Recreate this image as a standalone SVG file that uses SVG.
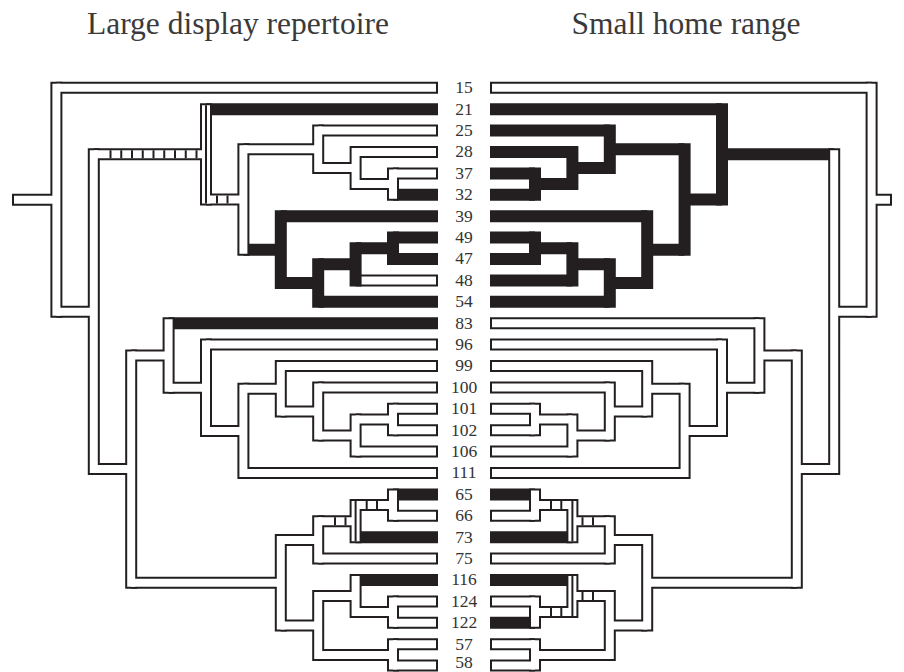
<svg xmlns="http://www.w3.org/2000/svg" width="904" height="672" viewBox="0 0 904 672">
<style>
.o{fill:none;stroke:#231f20;stroke-width:12;stroke-linecap:butt}
.ob{fill:none;stroke:#231f20;stroke-width:12;stroke-linecap:square}
.w{fill:none;stroke:#fff;stroke-width:8;stroke-linecap:butt}
.wb{fill:none;stroke:#fff;stroke-width:8;stroke-linecap:square}
.h{fill:none;stroke:#231f20;stroke-width:2}
.lab{font-family:"Liberation Serif","Times New Roman",serif;font-size:17.5px;fill:#333;text-anchor:middle}
.ttl{font-family:"Liberation Serif","Times New Roman",serif;font-size:31.5px;fill:#3a3a3a;text-anchor:middle}
</style>
<rect width="904" height="672" fill="#fff"/>
<g id="title-left"><text class="ttl" x="238" y="33.5">Large display repertoire</text></g>
<g id="title-right"><text class="ttl" x="686" y="33.5">Small home range</text></g>
<g id="connectors">
<g id="tree-left">
<path class="o" d="M12 199.8H56.4M56.4 87.8H438M56.4 311.7H93.8M93.8 154.35H206M93.8 469.1H131.2M206 109.2H438M206 199.5H243.4M243.4 149.3H318.2M243.4 249.65H280.8M318.2 130.6H438M318.2 168.05H355.6M355.6 152H438M355.6 184.1H393M393 173.4H438M393 194.8H438M280.8 216.2H438M280.8 283.1H318.2M318.2 264.35H355.6M318.2 301.8H438M355.6 248.3H393M355.6 280.4H438M393 237.6H438M393 259H438M131.2 355.5H168.6M131.2 582.7H280.8M168.6 323.2H438M168.6 387.7H206M206 344.6H438M206 430.9H243.4M243.4 388.7H280.8M243.4 473H438M280.8 366H438M280.8 411.5H318.2M318.2 387.4H438M318.2 435.55H355.6M355.6 419.5H393M355.6 451.6H438M393 408.8H438M393 430.2H438M280.8 539.9H318.2M280.8 625.5H318.2M318.2 521.15H355.6M318.2 558.6H438M355.6 505.1H393M355.6 537.2H438M393 494.4H438M393 515.8H438M318.2 596.05H355.6M318.2 654.9H393M355.6 580H438M355.6 612.1H393M393 601.4H438M393 622.8H438M393 644.2H438M393 665.6H438"/>
<path class="ob" d="M56.4 87.8V311.7M93.8 154.35V469.1M206 109.2V199.5M243.4 149.3V249.65M318.2 130.6V168.05M355.6 152V184.1M393 173.4V194.8M280.8 216.2V283.1M318.2 264.35V301.8M355.6 248.3V280.4M393 237.6V259M131.2 355.5V582.7M168.6 323.2V387.7M206 344.6V430.9M243.4 388.7V473M280.8 366V411.5M318.2 387.4V435.55M355.6 419.5V451.6M393 408.8V430.2M280.8 539.9V625.5M318.2 521.15V558.6M355.6 505.1V537.2M393 494.4V515.8M318.2 596.05V654.9M355.6 580V612.1M393 601.4V622.8M393 644.2V665.6"/>
<path class="wb" d="M56.4 87.8V311.7M93.8 154.35V469.1M206 109.2V199.5M243.4 149.3V249.65M318.2 130.6V168.05M355.6 152V184.1M393 173.4V194.8M131.2 355.5V582.7M168.6 323.2V387.7M206 344.6V430.9M243.4 388.7V473M280.8 366V411.5M318.2 387.4V435.55M355.6 419.5V451.6M393 408.8V430.2M280.8 539.9V625.5M318.2 521.15V558.6M355.6 505.1V537.2M393 494.4V515.8M318.2 596.05V654.9M355.6 580V612.1M393 601.4V622.8M393 644.2V665.6"/>
<path class="w" d="M14 199.8H56.4M56.4 87.8H436M56.4 311.7H93.8M93.8 154.35H206M93.8 469.1H131.2M206 199.5H243.4M243.4 149.3H318.2M318.2 130.6H436M318.2 168.05H355.6M355.6 152H436M355.6 184.1H393M393 173.4H436M361.6 280.4H436M131.2 355.5H168.6M131.2 582.7H280.8M168.6 387.7H206M206 344.6H436M206 430.9H243.4M243.4 388.7H280.8M243.4 473H436M280.8 366H436M280.8 411.5H318.2M318.2 387.4H436M318.2 435.55H355.6M355.6 419.5H393M355.6 451.6H436M393 408.8H436M393 430.2H436M280.8 539.9H318.2M280.8 625.5H318.2M318.2 521.15H355.6M318.2 558.6H436M355.6 505.1H393M393 515.8H436M318.2 596.05H355.6M318.2 654.9H393M355.6 612.1H393M393 601.4H436M393 622.8H436M393 644.2H436M393 665.6H436"/>
<path class="h" d="M110.5 150.35V158.35M121.25 150.35V158.35M132 150.35V158.35M142.75 150.35V158.35M153.5 150.35V158.35M164.25 150.35V158.35M175 150.35V158.35M185.75 150.35V158.35M196.5 150.35V158.35M206 105.2V203.5M217 195.5V203.5M227.5 195.5V203.5M335 517.15V525.15M345.5 517.15V525.15M355.6 501.1V541.2M366.7 501.1V509.1M377 501.1V509.1"/>
</g>
<g id="tree-right">
<path class="o" d="M892 199.8H871.6M871.6 87.8H490M871.6 311.7H834.2M834.2 154.35H722M834.2 469.1H796.8M722 109.2H490M722 199.5H684.6M684.6 149.3H609.8M684.6 249.65H647.2M609.8 130.6H490M609.8 168.05H572.4M572.4 152H490M572.4 184.1H535M535 173.4H490M535 194.8H490M647.2 216.2H490M647.2 283.1H609.8M609.8 264.35H572.4M609.8 301.8H490M572.4 248.3H535M572.4 280.4H490M535 237.6H490M535 259H490M796.8 355.5H759.4M796.8 582.7H647.2M759.4 323.2H490M759.4 387.7H722M722 344.6H490M722 430.9H684.6M684.6 388.7H647.2M684.6 473H490M647.2 366H490M647.2 411.5H609.8M609.8 387.4H490M609.8 435.55H572.4M572.4 419.5H535M572.4 451.6H490M535 408.8H490M535 430.2H490M647.2 539.9H609.8M647.2 625.5H609.8M609.8 521.15H572.4M609.8 558.6H490M572.4 505.1H535M572.4 537.2H490M535 494.4H490M535 515.8H490M609.8 596.05H572.4M609.8 654.9H535M572.4 580H490M572.4 612.1H535M535 601.4H490M535 622.8H490M535 644.2H490M535 665.6H490"/>
<path class="ob" d="M871.6 87.8V311.7M834.2 154.35V469.1M722 109.2V199.5M684.6 149.3V249.65M609.8 130.6V168.05M572.4 152V184.1M535 173.4V194.8M647.2 216.2V283.1M609.8 264.35V301.8M572.4 248.3V280.4M535 237.6V259M796.8 355.5V582.7M759.4 323.2V387.7M722 344.6V430.9M684.6 388.7V473M647.2 366V411.5M609.8 387.4V435.55M572.4 419.5V451.6M535 408.8V430.2M647.2 539.9V625.5M609.8 521.15V558.6M572.4 505.1V537.2M535 494.4V515.8M609.8 596.05V654.9M572.4 580V612.1M535 601.4V622.8M535 644.2V665.6"/>
<path class="wb" d="M871.6 87.8V311.7M834.2 154.35V469.1M796.8 355.5V582.7M759.4 323.2V387.7M722 344.6V430.9M684.6 388.7V473M647.2 366V411.5M609.8 387.4V435.55M572.4 419.5V451.6M535 408.8V430.2M647.2 539.9V625.5M609.8 521.15V558.6M572.4 505.1V537.2M535 494.4V515.8M609.8 596.05V654.9M572.4 580V612.1M535 601.4V622.8M535 644.2V665.6"/>
<path class="w" d="M890 199.8H871.6M871.6 87.8H492M871.6 311.7H834.2M834.2 469.1H796.8M796.8 355.5H759.4M796.8 582.7H647.2M759.4 323.2H492M759.4 387.7H722M722 344.6H492M722 430.9H684.6M684.6 388.7H647.2M684.6 473H492M647.2 366H492M647.2 411.5H609.8M609.8 387.4H492M609.8 435.55H572.4M572.4 419.5H535M572.4 451.6H492M535 408.8H492M535 430.2H492M647.2 539.9H609.8M647.2 625.5H609.8M609.8 521.15H572.4M609.8 558.6H492M572.4 505.1H535M535 515.8H492M609.8 596.05H572.4M609.8 654.9H535M572.4 612.1H535M535 601.4H492M535 644.2H492M535 665.6H492"/>
<path class="h" d="M593 517.15V525.15M582.5 517.15V525.15M572.4 501.1V541.2M561.3 501.1V509.1M551 501.1V509.1M593 592.05V600.05M582.5 592.05V600.05M572.4 576V616.1M561.3 608.1V616.1M551 608.1V616.1"/>
</g>
</g>
<g id="leaf-15"><text class="lab" x="464" y="93.1">15</text></g>
<g id="leaf-21"><text class="lab" x="464" y="114.5">21</text></g>
<g id="leaf-25"><text class="lab" x="464" y="135.9">25</text></g>
<g id="leaf-28"><text class="lab" x="464" y="157.3">28</text></g>
<g id="leaf-37"><text class="lab" x="464" y="178.7">37</text></g>
<g id="leaf-32"><text class="lab" x="464" y="200.1">32</text></g>
<g id="leaf-39"><text class="lab" x="464" y="221.5">39</text></g>
<g id="leaf-49"><text class="lab" x="464" y="242.9">49</text></g>
<g id="leaf-47"><text class="lab" x="464" y="264.3">47</text></g>
<g id="leaf-48"><text class="lab" x="464" y="285.7">48</text></g>
<g id="leaf-54"><text class="lab" x="464" y="307.1">54</text></g>
<g id="leaf-83"><text class="lab" x="464" y="328.5">83</text></g>
<g id="leaf-96"><text class="lab" x="464" y="349.9">96</text></g>
<g id="leaf-99"><text class="lab" x="464" y="371.3">99</text></g>
<g id="leaf-100"><text class="lab" x="464" y="392.7">100</text></g>
<g id="leaf-101"><text class="lab" x="464" y="414.1">101</text></g>
<g id="leaf-102"><text class="lab" x="464" y="435.5">102</text></g>
<g id="leaf-106"><text class="lab" x="464" y="456.9">106</text></g>
<g id="leaf-111"><text class="lab" x="464" y="478.3">111</text></g>
<g id="leaf-65"><text class="lab" x="464" y="499.7">65</text></g>
<g id="leaf-66"><text class="lab" x="464" y="521.1">66</text></g>
<g id="leaf-73"><text class="lab" x="464" y="542.5">73</text></g>
<g id="leaf-75"><text class="lab" x="464" y="563.9">75</text></g>
<g id="leaf-116"><text class="lab" x="464" y="585.3">116</text></g>
<g id="leaf-124"><text class="lab" x="464" y="606.7">124</text></g>
<g id="leaf-122"><text class="lab" x="464" y="628.1">122</text></g>
<g id="leaf-57"><text class="lab" x="464" y="649.5">57</text></g>
<g id="leaf-58"><text class="lab" x="464" y="668">58</text></g>
</svg>
